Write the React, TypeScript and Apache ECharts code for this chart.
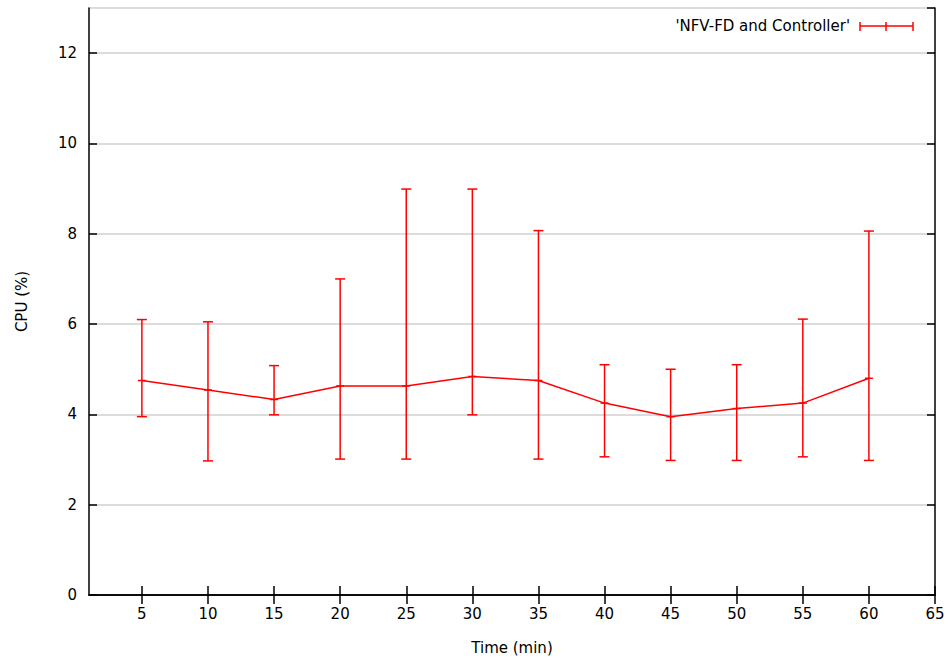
import React, { useEffect, useRef } from "react";
import * as echarts from "echarts";

const times = [5, 10, 15, 20, 25, 30, 35, 40, 45, 50, 55, 60];
const cpuMean = [4.75, 4.54, 4.33, 4.63, 4.63, 4.84, 4.75, 4.25, 3.95, 4.13, 4.25, 4.8];
const cpuLow = [3.95, 2.97, 3.99, 3.01, 3.01, 3.99, 3.01, 3.06, 2.98, 2.98, 3.06, 2.98];
const cpuHigh = [6.1, 6.05, 5.08, 7.0, 8.99, 8.99, 8.07, 5.1, 5.0, 5.1, 6.11, 8.06];
const xTickValues = [5, 10, 15, 20, 25, 30, 35, 40, 45, 50, 55, 60, 65];
const seriesName = "'NFV-FD and Controller'";

const FONT = "DejaVu Sans";
const RED = "#ff0000";

export default function App() {
  const ref = useRef<HTMLDivElement>(null);
  useEffect(() => {
    if (!ref.current) return;
    const chart = echarts.init(ref.current, undefined, { renderer: "svg" });
    const lineData = times.map((t, i) => [t, cpuMean[i]]);
    const errData = times.map((t, i) => [t, cpuMean[i], cpuLow[i], cpuHigh[i]]);
    const axisLine = { show: true, lineStyle: { color: "#000", width: 1.5 } };
    const labelStyle = { color: "#000", fontFamily: FONT, fontSize: 15 };
    chart.setOption({
      animation: false,
      backgroundColor: "#fff",
      grid: { left: 89, right: 15, top: 8, bottom: 60, containLabel: false },
      xAxis: [
        {
          type: "value",
          min: 1,
          max: 65,
          position: "bottom",
          name: "Time (min)",
          nameLocation: "middle",
          nameGap: 45,
          nameTextStyle: { ...labelStyle },
          axisLine,
          axisTick: { show: true, inside: true, length: 9, customValues: xTickValues, lineStyle: { color: "#000", width: 1.5 } },
          axisLabel: { ...labelStyle, margin: 11, customValues: xTickValues },
          splitLine: { show: false },
        },
        {
          type: "value",
          min: 1,
          max: 65,
          position: "top",
          axisLine,
          axisTick: { show: true, inside: true, length: 9, customValues: xTickValues, lineStyle: { color: "#000", width: 1.5 } },
          axisLabel: { show: false },
          splitLine: { show: false },
        },
      ],
      yAxis: [
        {
          type: "value",
          min: 0,
          max: 13,
          interval: 2,
          position: "left",
          name: "CPU (%)",
          nameLocation: "middle",
          nameGap: 60,
          nameRotate: 90,
          nameTextStyle: { ...labelStyle },
          axisLine,
          axisTick: { show: true, inside: true, length: 8, lineStyle: { color: "#000", width: 1.5 } },
          axisLabel: { ...labelStyle, margin: 12, showMaxLabel: false, formatter: (v: number) => (v === 13 ? "" : String(v)) },
          splitLine: { show: true, lineStyle: { color: "#d0d0d0", width: 1.5 } },
        },
        {
          type: "value",
          min: 0,
          max: 13,
          interval: 2,
          position: "right",
          axisLine,
          axisTick: { show: true, inside: true, length: 8, lineStyle: { color: "#000", width: 1.5 } },
          axisLabel: { show: false },
          splitLine: { show: false },
        },
      ],
      series: [
        {
          type: "line",
          name: seriesName,
          data: lineData,
          xAxisIndex: 0,
          yAxisIndex: 0,
          symbol: "none",
          lineStyle: { color: RED, width: 1.5 },
          z: 3,
        },
        {
          type: "custom",
          name: seriesName,
          data: errData,
          xAxisIndex: 0,
          yAxisIndex: 0,
          z: 4,
          renderItem: (params: any, api: any) => {
            const x = api.value(0);
            const m = api.coord([x, api.value(1)]);
            const lo = api.coord([x, api.value(2)]);
            const hi = api.coord([x, api.value(3)]);
            const cap = 5;
            const st = { stroke: RED, lineWidth: 1.5 };
            return {
              type: "group",
              children: [
                { type: "line", shape: { x1: lo[0], y1: lo[1], x2: hi[0], y2: hi[1] }, style: st },
                { type: "line", shape: { x1: lo[0] - cap, y1: lo[1], x2: lo[0] + cap, y2: lo[1] }, style: st },
                { type: "line", shape: { x1: hi[0] - cap, y1: hi[1], x2: hi[0] + cap, y2: hi[1] }, style: st },
                { type: "line", shape: { x1: m[0] - 4, y1: m[1], x2: m[0] + 4, y2: m[1] }, style: st },
              ],
            };
          },
        },
      ],
      graphic: [
        {
          type: "text",
          x: 850,
          y: 26,
          style: { text: seriesName, fill: "#000", font: `15px '${FONT}'`, align: "right", verticalAlign: "middle" },
        },
        { type: "line", shape: { x1: 860, y1: 26, x2: 913, y2: 26 }, style: { stroke: RED, lineWidth: 1.5 } },
        { type: "line", shape: { x1: 860, y1: 22, x2: 860, y2: 31 }, style: { stroke: RED, lineWidth: 1.5 } },
        { type: "line", shape: { x1: 913, y1: 22, x2: 913, y2: 31 }, style: { stroke: RED, lineWidth: 1.5 } },
        { type: "line", shape: { x1: 886, y1: 22, x2: 886, y2: 31 }, style: { stroke: RED, lineWidth: 1.5 } },
      ],
    });
    return () => chart.dispose();
  }, []);
  return <div ref={ref} style={{ width: 950, height: 660, position: "absolute", left: 0, top: 0 }} />;
}
